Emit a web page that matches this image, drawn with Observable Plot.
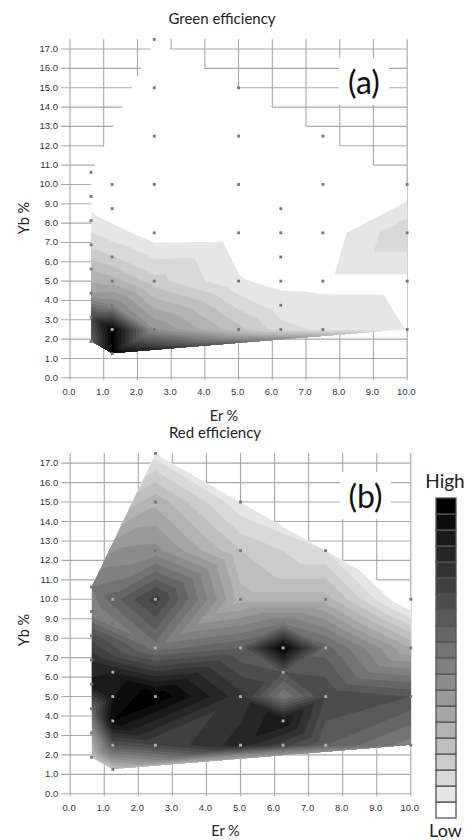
<!DOCTYPE html>
<html>
<head>
<meta charset="utf-8">
<script src="https://cdn.jsdelivr.net/npm/d3@7"></script>
<script src="https://cdn.jsdelivr.net/npm/@observablehq/plot@0.6"></script>
<style>
html,body{margin:0;padding:0;background:#fff;overflow:hidden}
#page{position:relative;width:470px;height:840px;overflow:hidden;font-family:Lato,"Open Sans",sans-serif;color:#222}
#page svg{position:absolute;background:transparent;overflow:visible}
.t{position:absolute;white-space:nowrap;transform:translate(-50%,-50%);line-height:1}
.tag{background:#fff;text-align:center;font-size:32px;color:#111;transform:none;display:flex;align-items:center;justify-content:center}
</style>
</head>
<body>
<div id="page"></div>
<script>
// Sample compositions
const er = [2.5, 2.5,5, 2.5,5,7.5, 0.625, 1.25,2.5,5,7.5,10, 0.625,1.25,6.25, 0.625,2.5,5,6.25,7.5,10, 0.625,1.25,6.25, 0.625,1.25,2.5,5,6.25,7.5,10, 0.625, 1.25,6.25, 0.625, 1.25,2.5,5,6.25,7.5,10, 0.625, 1.25];
const yb = [17.5, 15,15, 12.5,12.5,12.5, 10.625, 10,10,10,10,10, 9.375,8.75,8.75, 8.125,7.5,7.5,7.5,7.5,7.5, 6.875,6.25,6.25, 5.625,5,5,5,5,5,5, 4.375, 3.75,3.75, 3.125, 2.5,2.5,2.5,2.5,2.5,2.5, 1.875, 1.25];
// Efficiency (band number, 0 = white, 19 = black)
const green = [0, 0,0, 0,0,0, 0.1, 0.2,0,0,0,0, 0.3,0.2,0, 1.4,0.4,0.45,0.2,0.28,2.85, 2.74,3.1,0.2, 4.9,5.5,3.4,1.1,0.75,0.7,0.69, 7, 9,1.4, 14, 19.5,8,4.3,2.4,1.8,0.98, 12, 19.5];
const red = [1.5, 5.7,1.2, 8.4,4,2, 10, 11.5,14.5,5.5,5.5,-0.5, 9,9.5,10, 13.5,10.5,12,19.5,11.5,6, 15.8,17,13, 17.5,18,19.9,15.4,10,14,13, 11.5, 19,18, 7.5, 13,14,16.5,14.5,12,9.5, 4.5, 4.5];
const lightRed = [7,8,16,17,18,19,22,23,25,26,27,29,32,33,35,36,37,38,39];
const lightGreen = [35];
const thresholds = [-1,1,2,3,4,5,6,7,8,9,10,11,12,13,14,15,16,17,18,19];
const greys = ["#ffffff","#e6e6e6","#d9d9d9","#cccccc","#bfbfbf","#b3b3b3","#a6a6a6","#999999","#8c8c8c","#808080","#737373","#666666","#595959","#4d4d4d","#404040","#333333","#262626","#1a1a1a","#0d0d0d","#000000"];
const xTicks = [0,1,2,3,4,5,6,7,8,9,10];
const yTicks = [0,1,2,3,4,5,6,7,8,9,10,11,12,13,14,15,16,17];

// Linear interpolation over a triangulation made in data units, rising diagonals on ties
const triangulated = (index, w, h, X, Y, V) => {
  const W = new Float64Array(w * h).fill(NaN);
  const ids = Array.from(index);
  const {triangles} = d3.Delaunay.from(ids, i => er[i] - 0.01 * yb[i], i => yb[i]);
  for (let t = 0; t < triangles.length; t += 3) {
    const a = ids[triangles[t]], b = ids[triangles[t + 1]], c = ids[triangles[t + 2]];
    const det = (Y[b] - Y[c]) * (X[a] - X[c]) + (X[c] - X[b]) * (Y[a] - Y[c]);
    if (Math.abs(det) < 1e-6) continue;
    const x0 = Math.max(0, Math.floor(Math.min(X[a], X[b], X[c]))), x1 = Math.min(w - 1, Math.ceil(Math.max(X[a], X[b], X[c])));
    const y0 = Math.max(0, Math.floor(Math.min(Y[a], Y[b], Y[c]))), y1 = Math.min(h - 1, Math.ceil(Math.max(Y[a], Y[b], Y[c])));
    for (let y = y0; y <= y1; ++y) for (let x = x0; x <= x1; ++x) {
      const px = x + 0.5, py = y + 0.5;
      const l1 = ((Y[b] - Y[c]) * (px - X[c]) + (X[c] - X[b]) * (py - Y[c])) / det;
      const l2 = ((Y[c] - Y[a]) * (px - X[c]) + (X[a] - X[c]) * (py - Y[c])) / det;
      const l3 = 1 - l1 - l2;
      if (l1 >= -1e-9 && l2 >= -1e-9 && l3 >= -1e-9) W[y * w + x] = l1 * V[a] + l2 * V[b] + l3 * V[c];
    }
  }
  return W;
};

function panel(values, light, top, bottom, left, right) {
  const rows = er.map((e, i) => ({er: e, yb: yb[i], v: values[i], light: light.includes(i)}));
  return Plot.plot({
    width: 470, height: 420,
    marginLeft: left, marginRight: 470 - right, marginTop: top, marginBottom: 420 - bottom,
    x: {domain: [0, 10]},
    y: {domain: [0, 17.5]},
    color: {type: "threshold", domain: thresholds, range: ["#ffffff", ...greys]},
    style: {fontFamily: '"Liberation Sans Narrow","Liberation Sans",sans-serif', color: "#333", background: "transparent"},
    marks: [
      Plot.ruleY(yTicks, {x1: -0.25, x2: 10, stroke: "#a8a8a8", strokeWidth: 1.1}),
      Plot.ruleX(xTicks, {y1: -0.15, y2: 17.5, stroke: "#a8a8a8", strokeWidth: 1.1}),
      Plot.contour(rows, {x: "er", y: "yb", fill: "v", thresholds, interpolate: triangulated, pixelSize: 0.5, stroke: "none"}),
      Plot.dot(rows, {x: "er", y: "yb", symbol: "square", r: 1.6, fill: d => d.light ? "#b0b0b0" : "#757575", stroke: "none"}),
      Plot.axisX(xTicks, {anchor: "bottom", tickSize: 0, tickPadding: 10, tickFormat: d => d.toFixed(1), fontSize: 9.5, label: null, dx: -1}),
      Plot.axisY(yTicks, {anchor: "left", tickSize: 0, tickPadding: 12, tickFormat: d => d.toFixed(1), fontSize: 9.5, label: null})
    ]
  });
}

const page = document.getElementById("page");
const a = panel(green, lightGreen, 38.9, 377.3, 69.5, 406.7);
a.style.left = "0px"; a.style.top = "0px";
const b = panel(red, lightRed, 32.9, 373.3, 69.7, 410.3);
b.style.left = "0px"; b.style.top = "420px";
page.append(a, b);

// Colour key
const key = Plot.plot({
  width: 20, height: 329, margin: 0,
  x: {axis: null}, y: {axis: null, type: "band", domain: d3.range(greys.length).reverse(), padding: 0},
  style: {background: "transparent"},
  marks: [Plot.cell(d3.range(greys.length), {y: d => d, fill: d => greys[d], stroke: "#555", strokeWidth: 1.3})]
});
key.style.left = "436px"; key.style.top = "493px";
page.append(key);

const text = (s, x, y, size, extra = "") => {
  const d = document.createElement("div");
  d.className = "t"; d.textContent = s;
  d.style.cssText = `left:${x}px;top:${y}px;font-size:${size}px;${extra}`;
  page.append(d);
};
text("Green efficiency", 222, 18, 15);
text("Er %", 224, 416, 14.5);
text("Red efficiency", 215, 432, 15);
text("Er %", 225.5, 831, 14.5);
text("Yb %", 24, 218, 14.5, "transform:translate(-50%,-50%) rotate(-90deg);");
text("Yb %", 24, 630, 14.5, "transform:translate(-50%,-50%) rotate(-90deg);");
text("High", 445, 480, 19);
text("Low", 445.5, 830, 18);
const tag = (s, x, y, w, h) => {
  const d = document.createElement("div");
  d.className = "t tag"; d.textContent = s;
  d.style.left = x + "px"; d.style.top = y + "px"; d.style.width = w + "px"; d.style.height = h + "px";
  page.append(d);
};
tag("(a)", 339, 58, 50, 47);
tag("(b)", 340, 472, 51, 47);
</script>
</body>
</html>
